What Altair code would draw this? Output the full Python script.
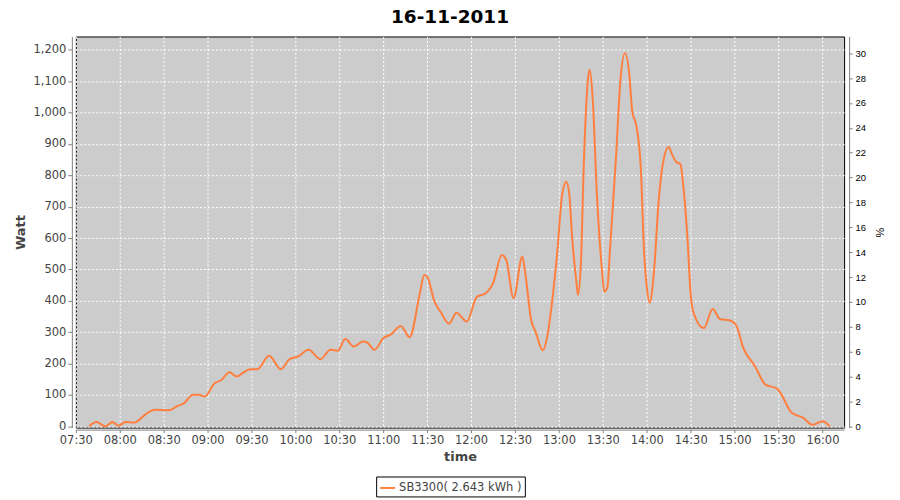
import altair as alt
import pandas as pd

# ---- data ----
times = [
    "07:39", "07:44", "07:50", "07:55", "07:59", "08:04", "08:10", "08:18", "08:24", "08:34",
    "08:39", "08:44", "08:50", "08:54", "08:58", "09:05", "09:09", "09:15", "09:20", "09:24",
    "09:29", "09:34", "09:42", "09:50", "09:56", "10:02", "10:09", "10:17", "10:24", "10:29",
    "10:34", "10:40", "10:46", "10:49", "10:54", "11:00", "11:05", "11:12", "11:18", "11:25",
    "11:28", "11:30", "11:35", "11:39", "11:45", "11:50", "11:57", "12:04", "12:10", "12:15",
    "12:21", "12:24", "12:29", "12:35", "12:37", "12:41", "12:44", "12:49", "12:52", "12:56",
    "12:59", "13:02", "13:05", "13:07", "13:09", "13:12", "13:13", "13:15", "13:17", "13:20",
    "13:21", "13:23", "13:26", "13:29", "13:31", "13:33", "13:35", "13:39", "13:42", "13:45",
    "13:48", "13:50", "13:53", "13:56", "13:58", "14:00", "14:02", "14:05", "14:08", "14:11",
    "14:15", "14:17", "14:20", "14:23", "14:25", "14:28", "14:30", "14:32", "14:39", "14:45",
    "14:50", "14:57", "15:01", "15:06", "15:14", "15:21", "15:29", "15:32", "15:39", "15:47",
    "15:53", "16:00", "16:05",
]
watts = [
    0, 14, 0, 14, 2, 14, 12, 40, 53, 51,
    64, 74, 101, 101, 95, 138, 146, 172, 159, 170,
    182, 182, 225, 182, 214, 223, 244, 214, 244, 241,
    278, 254, 270, 267, 244, 281, 292, 320, 284, 424,
    482, 477, 397, 366, 327, 362, 334, 413, 424, 456,
    546, 530, 408, 541, 488, 339, 302, 242, 286, 424,
    562, 731, 779, 742, 604, 456, 419, 520, 837, 1113,
    1136, 1049, 731, 520, 429, 440, 572, 859, 1102, 1189,
    1124, 1007, 954, 816, 572, 445, 394, 498, 710, 837,
    890, 869, 843, 835, 763, 583, 420, 361, 313, 374,
    342, 337, 323, 249, 191, 133, 120, 101, 43, 27,
    5, 16, 0,
]
series_name = "SB3300( 2.643 kWh )"
x_tick_labels = ["07:30", "08:00", "08:30", "09:00", "09:30", "10:00", "10:30", "11:00", "11:30",
                 "12:00", "12:30", "13:00", "13:30", "14:00", "14:30", "15:00", "15:30", "16:00"]
watt_ticks = [0, 100, 200, 300, 400, 500, 600, 700, 800, 900, 1000, 1100, 1200]
pct_ticks = [0, 2, 4, 6, 8, 10, 12, 14, 16, 18, 20, 22, 24, 26, 28, 30]


def dt(hhmm, seconds=0):
    h, m = hhmm.split(":")
    return alt.DateTime(year=2011, month=11, date=16, hours=int(h), minutes=int(m), seconds=seconds)


df = pd.DataFrame({
    "time": ["2011-11-16T" + t + ":00" for t in times],
    "watt": watts,
    "series": [series_name] * len(times),
})
pct_df = pd.DataFrame({"pct": pct_ticks})

FONT = "DejaVu Sans"

line = alt.Chart(df).mark_line(interpolate="monotone", strokeWidth=2).encode(
    x=alt.X(
        "time:T",
        scale=alt.Scale(domain=[dt("07:30"), dt("16:14", 48)], nice=False),
        axis=alt.Axis(
            title="time", format="%H:%M", values=[dt(t) for t in x_tick_labels],
            labelOverlap=False, labelFlush=False,
            offset=2, tickSize=3, labelPadding=2, titlePadding=4,
            grid=True, gridColor="white", gridDash=[2, 2], gridWidth=1, gridOpacity=1,
            domainColor="#808080", tickColor="#808080",
            labelFont=FONT, labelFontSize=11.5, labelColor="#444444",
            titleFont=FONT, titleFontSize=13, titleFontWeight="bold", titleColor="#444444",
        ),
    ),
    y=alt.Y(
        "watt:Q",
        scale=alt.Scale(domain=[-4, 1242], nice=False, zero=False),
        axis=alt.Axis(
            title="Watt", values=watt_ticks, format=",d", labelOverlap=False, labelFlush=False,
            offset=4, tickSize=4, labelPadding=2, titlePadding=6,
            grid=True, gridColor="white", gridDash=[2, 2], gridWidth=1, gridOpacity=1,
            domainColor="#808080", tickColor="#808080",
            labelFont=FONT, labelFontSize=11.5, labelColor="#444444",
            titleFont=FONT, titleFontSize=13, titleFontWeight="bold", titleColor="#444444",
        ),
    ),
    color=alt.Color(
        "series:N",
        scale=alt.Scale(range=["#ff7f3f"]),
        legend=alt.Legend(
            title=None, orient="none", legendX=301, legendY=441,
            symbolType="stroke", symbolStrokeWidth=2, symbolSize=225,
            strokeColor="black", fillColor="white", padding=3, labelOffset=3,
            labelFont=FONT, labelFontSize=11.5, labelColor="#444444",
        ),
    ),
)

right = alt.Chart(pct_df).mark_point(opacity=0).encode(
    y=alt.Y(
        "pct:Q",
        scale=alt.Scale(domain=[-0.1, 31.34], nice=False, zero=False),
        axis=alt.Axis(
            orient="right", title="%", values=pct_ticks, grid=False,
            labelOverlap=False, labelFlush=False,
            offset=5, tickSize=3, labelPadding=3, titlePadding=8,
            domainColor="#808080", tickColor="#808080",
            labelFont="Liberation Sans", labelFontSize=9.5, labelColor="black",
            titleFont="Liberation Sans", titleFontSize=11, titleFontWeight="normal", titleColor="black",
        ),
    ),
)

chart = alt.layer(line, right).resolve_scale(y="independent").properties(
    width=770,
    height=392,
    autosize="none",
    padding={"left": 68, "top": 28, "right": 48, "bottom": 70},
    title=alt.Title(
        "16-11-2011", font=FONT, fontSize=18.5, fontWeight="bold", color="black",
        anchor="middle", dx=-10, offset=10.5,
    ),
).configure_view(fill="#cccccc", stroke="black", strokeWidth=1)

chart.save("out.html", embed_options={"renderer": "svg", "actions": False})
